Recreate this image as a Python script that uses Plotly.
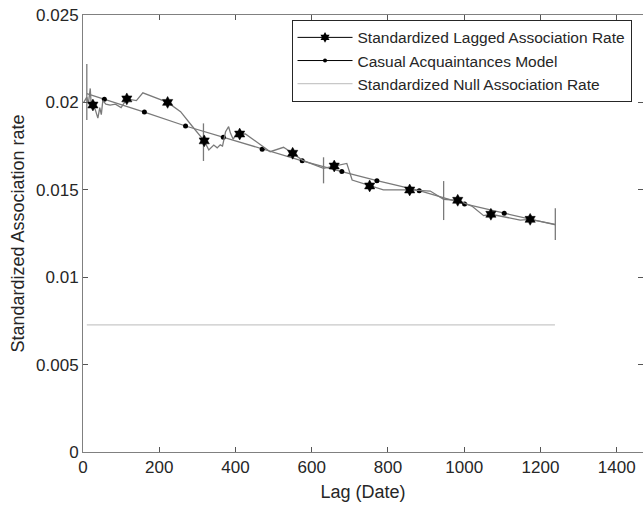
import plotly.graph_objects as go

# Standardized Lagged Association Rate (line)
slar_x = [2, 10, 14, 19, 22, 26, 32, 39, 44, 48, 52, 60, 71, 85, 100, 115, 140, 157, 222,
          256, 286, 318, 330, 343, 352, 360, 366, 374, 382, 387, 394, 400, 411, 426, 491,
          526, 550, 575, 631, 659, 692, 706, 752, 788, 857, 911, 946, 983, 1020, 1051,
          1070, 1147, 1173, 1239]
slar_y = [0.0200, 0.0203, 0.0199, 0.0208, 0.0197, 0.01985, 0.0196, 0.0191, 0.0197, 0.0193,
          0.0201, 0.0199, 0.01985, 0.0199, 0.0197, 0.0202, 0.0201, 0.02055, 0.0200,
          0.01947, 0.01865, 0.0178, 0.01728, 0.01756, 0.0174, 0.01757, 0.0175, 0.01832,
          0.01861, 0.01823, 0.01789, 0.01813, 0.01819, 0.0182, 0.01718, 0.01743, 0.01709,
          0.0167, 0.01623, 0.01636, 0.01651, 0.01556, 0.01522, 0.01499, 0.01499, 0.01493,
          0.01446, 0.0144, 0.01407, 0.01352, 0.0136, 0.01327, 0.01331, 0.01302]
# star markers
star_x = [26, 115, 222, 318, 411, 550, 659, 752, 857, 983, 1070, 1173]
star_y = [0.01985, 0.0202, 0.0200, 0.0178, 0.01819, 0.01709, 0.01636, 0.01522, 0.01499,
          0.0144, 0.0136, 0.01331]
# error bars
err_x = [10, 316, 631, 946, 1239]
err_lo = [0.0190, 0.01665, 0.01537, 0.01327, 0.01213]
err_hi = [0.0222, 0.0188, 0.01686, 0.0155, 0.01394]

# Casual Acquaintances Model
model_x = [10, 56, 161, 269, 368, 470, 575, 679, 771, 882, 1001, 1105, 1240]
model_y = [0.0205, 0.02018, 0.01945, 0.01865, 0.0180, 0.01732, 0.01666, 0.01604, 0.01552,
           0.01495, 0.01419, 0.01366, 0.01300]
model_dot = [False, True, True, True, True, True, True, True, True, True, True, True, False]

# Standardized Null Association Rate
null_x = [10, 1238]
null_y = [0.00727, 0.00727]

x_ticks = [0, 200, 400, 600, 800, 1000, 1200, 1400]
y_ticks = [0, 0.005, 0.01, 0.015, 0.02, 0.025]
y_labels = ["0", "0.005", "0.01", "0.015", "0.02", "0.025"]

LINE = "#7a7a7a"
fig = go.Figure()

# null line
fig.add_trace(go.Scatter(x=null_x, y=null_y, mode="lines", line=dict(color="#c8c8c8", width=1.3),
                         showlegend=False))
# model line
fig.add_trace(go.Scatter(x=model_x, y=model_y, mode="lines", line=dict(color=LINE, width=1.3),
                         showlegend=False))
fig.add_trace(go.Scatter(x=[x for x, d in zip(model_x, model_dot) if d],
                         y=[y for y, d in zip(model_y, model_dot) if d],
                         mode="markers", marker=dict(color="black", size=5), showlegend=False))
# SLAR line
fig.add_trace(go.Scatter(x=slar_x, y=slar_y, mode="lines", line=dict(color=LINE, width=1.3),
                         showlegend=False))
# error bars
err_c = [(lo + hi) / 2 for lo, hi in zip(err_lo, err_hi)]
fig.add_trace(go.Scatter(x=err_x, y=err_c, mode="markers", marker=dict(size=0.1, opacity=0),
                         error_y=dict(type="data", symmetric=False,
                                      array=[h - c for h, c in zip(err_hi, err_c)],
                                      arrayminus=[c - l for l, c in zip(err_lo, err_c)],
                                      color=LINE, thickness=1.3, width=0),
                         showlegend=False))
fig.add_trace(go.Scatter(x=star_x, y=star_y, mode="markers",
                         marker=dict(symbol="hexagram", color="black", size=9,
                                     line=dict(color="black", width=0.5)),
                         showlegend=False))

# legend entries
fig.add_trace(go.Scatter(x=[None], y=[None], mode="lines+markers",
                         name="Standardized Lagged Association Rate",
                         line=dict(color="black", width=1),
                         marker=dict(symbol="hexagram", color="black", size=8)))
fig.add_trace(go.Scatter(x=[None], y=[None], mode="lines+markers",
                         name="Casual Acquaintances Model",
                         line=dict(color="black", width=1),
                         marker=dict(color="black", size=4)))
fig.add_trace(go.Scatter(x=[None], y=[None], mode="lines",
                         name="Standardized Null Association Rate",
                         line=dict(color="#c8c8c8", width=1.3)))

axis_common = dict(showgrid=False, zeroline=False, showline=True, linecolor="#808080",
                   linewidth=1, mirror="ticks", ticks="inside", ticklen=5,
                   tickcolor="#555555", tickfont=dict(size=17, color="#262626"),
                   automargin=False)

fig.update_layout(
    width=643, height=511,
    margin=dict(l=83, r=0, t=15, b=59),
    plot_bgcolor="white", paper_bgcolor="white",
    font=dict(family="Liberation Sans, Arial, sans-serif", color="#262626"),
    xaxis=dict(range=[0, 1469], tickvals=x_ticks,
               title=dict(text="Lag (Date)", font=dict(size=18), standoff=8), **axis_common),
    yaxis=dict(range=[0, 0.025], tickvals=y_ticks, ticktext=y_labels,
               title=dict(text="Standardized Association rate", font=dict(size=18), standoff=6),
               **axis_common),
    legend=dict(x=0.9795, xanchor="right", y=0.989, yanchor="top",
                bordercolor="#262626", borderwidth=1, bgcolor="white",
                font=dict(size=15.5, color="#262626"), tracegroupgap=0,
                itemwidth=55),
)

fig.write_html("out.html", config={"displayModeBar": False},
               post_script="document.body.style.margin='0';document.body.style.overflow='hidden';")
